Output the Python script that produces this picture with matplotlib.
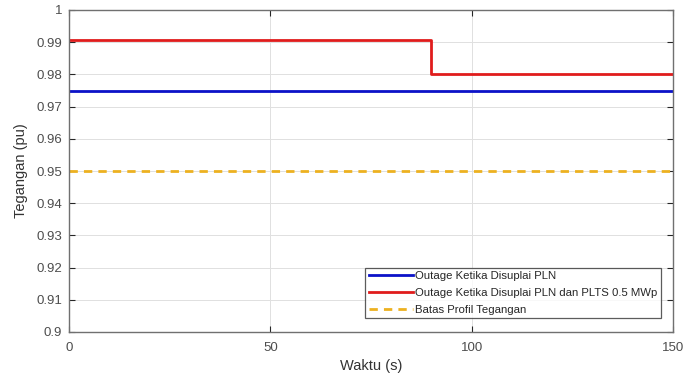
import matplotlib
matplotlib.use("Agg")
import matplotlib.pyplot as plt

time_pln = [0, 150]
v_pln = [0.975, 0.975]
time_plts = [0, 90, 90, 150]
v_plts = [0.9906, 0.9906, 0.9800, 0.9800]
time_limit = [0, 150]
v_limit = [0.95, 0.95]

labels = ["Outage Ketika Disuplai PLN",
          "Outage Ketika Disuplai PLN dan PLTS 0.5 MWp",
          "Batas Profil Tegangan"]
xticks = [0, 50, 100, 150]
yticks = [0.9, 0.91, 0.92, 0.93, 0.94, 0.95, 0.96, 0.97, 0.98, 0.99, 1.0]
ytick_labels = ["0.9", "0.91", "0.92", "0.93", "0.94", "0.95", "0.96", "0.97", "0.98", "0.99", "1"]

plt.rcParams['font.family'] = ['Liberation Sans', 'DejaVu Sans']
fig = plt.figure(figsize=(6.97, 3.78), dpi=100)
ax = fig.add_axes([69/697, 46/378, 604/697, 322/378])

ax.plot(time_pln, v_pln, color="#0b12c8", lw=2.0, label=labels[0])
ax.plot(time_plts, v_plts, color="#e01c1c", lw=2.0, label=labels[1])
ax.plot(time_limit, v_limit, color="#edb120", lw=2.0, ls=(0, (3, 2.2)), label=labels[2])

ax.set_xlim(0, 150)
ax.set_ylim(0.9, 1.0)
ax.set_xticks(xticks)
ax.set_yticks(yticks)
ax.set_yticklabels(ytick_labels)
ax.grid(True, color="#e0e0e0", lw=0.7)
ax.set_axisbelow(True)
for s in ax.spines.values():
    s.set_color("#707070")
    s.set_linewidth(1.0)
ax.tick_params(axis='both', colors="#262626", labelcolor="#4d4d4d", labelsize=9.5,
               length=4, direction='in', top=True, right=True)
ax.tick_params(axis='x', pad=7)
ax.tick_params(axis='y', pad=5)
ax.set_xlabel("Waktu (s)", fontsize=10.5, color="#333333", labelpad=4)
ax.set_ylabel("Tegangan (pu)", fontsize=10.5, color="#333333", labelpad=6)

leg = ax.legend(loc="lower right", fontsize=8.2, frameon=True, fancybox=False,
                edgecolor="#333333", handlelength=3.9, handletextpad=0.2,
                borderpad=0.3, labelspacing=0.6,
                bbox_to_anchor=(661/697, 1 - 318/378), bbox_transform=fig.transFigure,
                borderaxespad=0.0)
leg.get_frame().set_linewidth(0.9)
for t in leg.get_texts():
    t.set_color("#262626")

fig.savefig("out.png", dpi=100)
